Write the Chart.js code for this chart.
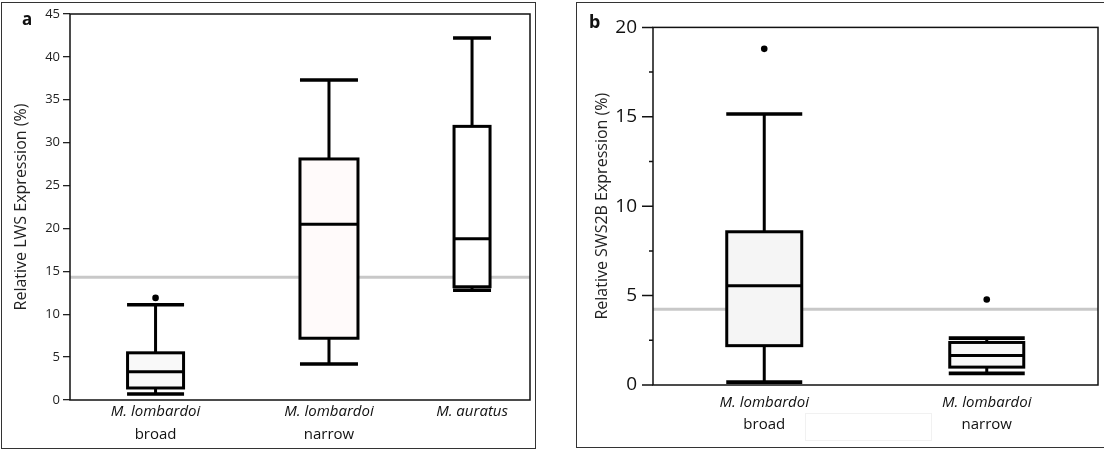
<!DOCTYPE html>
<html>
<head>
<meta charset="utf-8">
<script src="https://cdn.jsdelivr.net/npm/chart.js@4.4.1/dist/chart.umd.min.js"></script>
<style>
  html, body { margin: 0; padding: 0; background: #fff; overflow: hidden; width: 1104px; height: 452px; }
  .frame { position: absolute; box-sizing: border-box; border: 1.5px solid #333; }
  #frameA { left: 1px; top: 2px; width: 535px; height: 447px; }
  #frameB { left: 576px; top: 2px; width: 540px; height: 446px; }
  .panel { position: absolute; top: 0; height: 452px; }
  #wrapA { left: 0; width: 560px; }
  #wrapB { left: 560px; width: 544px; }
  .tag { position: absolute; font-family: "Noto Sans", sans-serif; font-weight: bold; color: #111; line-height: 1; }
  #tagA { left: 22px; top: 10px; font-size: 17px; }
  #tagB { left: 589px; top: 12px; font-size: 18px; }
  #ghost { position: absolute; left: 805px; top: 413px; width: 127px; height: 28px; border: 1px solid #f1f1f1; box-sizing: border-box; }
</style>
</head>
<body>
<div class="frame" id="frameA"></div>
<div class="frame" id="frameB"></div>
<div id="ghost"></div>
<div class="panel" id="wrapA"><canvas id="chartA" width="560" height="452"></canvas></div>
<div class="panel" id="wrapB"><canvas id="chartB" width="544" height="452"></canvas></div>
<div class="tag" id="tagA">a</div>
<div class="tag" id="tagB">b</div>
<script>
// ---- Panel a: relative LWS expression (%) ----
const lwsSpecies     = ['M. lombardoi', 'M. lombardoi', 'M. auratus'];
const lwsMorph       = ['broad', 'narrow', ''];
const lwsWhiskerLow  = [0.7, 4.2, 12.8];
const lwsQ1          = [1.4, 7.2, 13.2];
const lwsMedian      = [3.3, 20.5, 18.8];
const lwsQ3          = [5.5, 28.1, 31.9];
const lwsWhiskerHigh = [11.1, 37.3, 42.2];
const lwsOutliers    = [[11.9], [], []];
const lwsReference   = 14.3;
const lwsTicks       = [0, 5, 10, 15, 20, 25, 30, 35, 40, 45];

// ---- Panel b: relative SWS2B expression (%) ----
const swsSpecies     = ['M. lombardoi', 'M. lombardoi'];
const swsMorph       = ['broad', 'narrow'];
const swsWhiskerLow  = [0.16, 0.65];
const swsQ1          = [2.2, 1.0];
const swsMedian      = [5.55, 1.65];
const swsQ3          = [8.57, 2.38];
const swsWhiskerHigh = [15.16, 2.62];
const swsOutliers    = [[18.8], [4.78]];
const swsReference   = 4.23;
const swsTicks       = [0, 2.5, 5, 7.5, 10, 12.5, 15, 17.5, 20];

// group placement along each x axis (layout only)
const lwsSlots = [18.6, 56.3, 87.4];   // on a 0..100 axis
const swsSlots = [0.5, 1.5];           // on a 0..2 axis

const FONT = '"Open Sans", "Noto Sans", sans-serif';

function outlierPoints(slots, outliers) {
  const pts = [];
  outliers.forEach((list, i) => list.forEach(v => pts.push({ x: slots[i], y: v })));
  return pts;
}

function boxPlotPlugin(cfg) {
  return {
    id: 'boxPlot_' + cfg.name,
    beforeDatasetsDraw(chart) {
      const { ctx, chartArea: a, scales: { x, y } } = chart;
      ctx.save();
      ctx.beginPath();
      ctx.rect(a.left, a.top, a.width, a.height);
      ctx.clip();
      // group reference level
      const ry = y.getPixelForValue(cfg.reference);
      ctx.strokeStyle = '#c8c8c8';
      ctx.lineWidth = 3;
      ctx.beginPath();
      ctx.moveTo(a.left, ry);
      ctx.lineTo(a.right, ry);
      ctx.stroke();

      cfg.slots.forEach((slot, i) => {
        const cx = x.getPixelForValue(slot);
        const w = cfg.boxWidth[i];
        const capW = cfg.capWidth[i];
        const yLow = y.getPixelForValue(cfg.low[i]);
        const yQ1 = y.getPixelForValue(cfg.q1[i]);
        const yMed = y.getPixelForValue(cfg.median[i]);
        const yQ3 = y.getPixelForValue(cfg.q3[i]);
        const yHigh = y.getPixelForValue(cfg.high[i]);
        ctx.strokeStyle = '#000';
        ctx.lineCap = 'butt';
        // whiskers
        ctx.lineWidth = 3;
        ctx.beginPath();
        ctx.moveTo(cx, yQ3); ctx.lineTo(cx, yHigh);
        ctx.moveTo(cx, yQ1); ctx.lineTo(cx, yLow);
        ctx.stroke();
        // whisker caps
        ctx.lineWidth = 3.6;
        ctx.beginPath();
        ctx.moveTo(cx - capW / 2, yHigh); ctx.lineTo(cx + capW / 2, yHigh);
        ctx.moveTo(cx - capW / 2, yLow); ctx.lineTo(cx + capW / 2, yLow);
        ctx.stroke();
        // box
        ctx.fillStyle = cfg.fill[i];
        ctx.fillRect(cx - w / 2, yQ3, w, yQ1 - yQ3);
        ctx.lineWidth = 3;
        ctx.strokeRect(cx - w / 2, yQ3, w, yQ1 - yQ3);
        // median
        ctx.beginPath();
        ctx.moveTo(cx - w / 2, yMed); ctx.lineTo(cx + w / 2, yMed);
        ctx.stroke();
      });
      ctx.restore();
    },
    afterDraw(chart) {
      const { ctx, chartArea: a, scales: { x, y } } = chart;
      ctx.save();
      // plot frame
      ctx.strokeStyle = '#111';
      ctx.lineWidth = 1.5;
      ctx.strokeRect(a.left, a.top, a.width, a.height);
      // minor / major tick marks
      if (cfg.tickMarks) {
        ctx.lineWidth = 1.5;
        ctx.beginPath();
        y.ticks.forEach(t => {
          const py = y.getPixelForValue(t.value);
          const len = t.value % 5 === 0 ? cfg.tickMarks.major : cfg.tickMarks.minor;
          ctx.moveTo(a.left - len, py);
          ctx.lineTo(a.left, py);
        });
        ctx.stroke();
      }
      // group labels
      ctx.fillStyle = '#111';
      ctx.textAlign = 'center';
      ctx.textBaseline = 'middle';
      cfg.slots.forEach((slot, i) => {
        const cx = x.getPixelForValue(slot);
        ctx.font = 'italic 15px ' + FONT;
        ctx.fillText(cfg.species[i], cx, cfg.labelY[0]);
        if (cfg.morph[i]) {
          ctx.font = '15px ' + FONT;
          ctx.fillText(cfg.morph[i], cx, cfg.labelY[1]);
        }
      });
      ctx.restore();
    }
  };
}

Chart.defaults.animation = false;

// Panel a
new Chart(document.getElementById('chartA'), {
  type: 'scatter',
  data: {
    datasets: [{
      data: outlierPoints(lwsSlots, lwsOutliers),
      pointRadius: 3.3,
      pointBackgroundColor: '#000',
      pointBorderColor: '#000',
      pointBorderWidth: 0
    }]
  },
  options: {
    responsive: false,
    devicePixelRatio: 1,
    layout: { padding: { left: 0, right: 30, top: 14, bottom: 0 } },
    plugins: { legend: { display: false }, tooltip: { enabled: false } },
    scales: {
      x: {
        type: 'linear', min: 0, max: 100,
        ticks: { display: false },
        grid: { display: false },
        border: { display: false },
        afterFit(s) { s.height = 52; }
      },
      y: {
        type: 'linear', min: 0, max: 45,
        afterBuildTicks(s) { s.ticks = lwsTicks.map(v => ({ value: v })); },
        ticks: { color: '#222', padding: 3, font: { family: FONT, size: 13 } },
        grid: { display: true, drawOnChartArea: false, drawTicks: true, tickLength: 7, color: '#222', lineWidth: 1.3 },
        border: { display: false },
        title: {
          display: true, text: 'Relative LWS Expression (%)', color: '#222',
          font: { family: FONT, size: 16 }, padding: { top: 12, bottom: 0 }
        },
        afterFit(s) { s.width = 70; }
      }
    }
  },
  plugins: [boxPlotPlugin({
    name: 'lws',
    slots: lwsSlots, species: lwsSpecies, morph: lwsMorph,
    low: lwsWhiskerLow, q1: lwsQ1, median: lwsMedian, q3: lwsQ3, high: lwsWhiskerHigh,
    reference: lwsReference,
    boxWidth: [56, 58, 36], capWidth: [57, 58, 38],
    fill: ['#f9f9f9', '#fffafa', '#ffffff'],
    labelY: [412, 435]
  })]
});

// Panel b
new Chart(document.getElementById('chartB'), {
  type: 'scatter',
  data: {
    datasets: [{
      data: outlierPoints(swsSlots, swsOutliers),
      pointRadius: 3.3,
      pointBackgroundColor: '#000',
      pointBorderColor: '#000',
      pointBorderWidth: 0
    }]
  },
  options: {
    responsive: false,
    devicePixelRatio: 1,
    layout: { padding: { left: 0, right: 6, top: 21, bottom: 0 } },
    plugins: { legend: { display: false }, tooltip: { enabled: false } },
    scales: {
      x: {
        type: 'linear', min: 0, max: 2,
        ticks: { display: false },
        grid: { display: false },
        border: { display: false },
        afterFit(s) { s.height = 67; }
      },
      y: {
        type: 'linear', min: 0, max: 20,
        afterBuildTicks(s) { s.ticks = swsTicks.map(v => ({ value: v })); },
        ticks: {
          color: '#111', padding: 16, autoSkip: false,
          font: { family: FONT, size: 19 },
          callback: v => (v % 5 === 0 ? String(v) : '')
        },
        grid: { display: false, drawTicks: false },
        border: { display: false },
        title: {
          display: true, text: 'Relative SWS2B Expression (%)', color: '#222',
          font: { family: FONT, size: 16 }, padding: { top: 33, bottom: 0 }
        },
        afterFit(s) { s.width = 93; }
      }
    }
  },
  plugins: [boxPlotPlugin({
    name: 'sws',
    slots: swsSlots, species: swsSpecies, morph: swsMorph,
    low: swsWhiskerLow, q1: swsQ1, median: swsMedian, q3: swsQ3, high: swsWhiskerHigh,
    reference: swsReference,
    boxWidth: [75, 74], capWidth: [76, 76],
    fill: ['#f5f5f5', '#f8f8f8'],
    labelY: [403, 425],
    tickMarks: { major: 11, minor: 4 }
  })]
});
</script>
</body>
</html>
